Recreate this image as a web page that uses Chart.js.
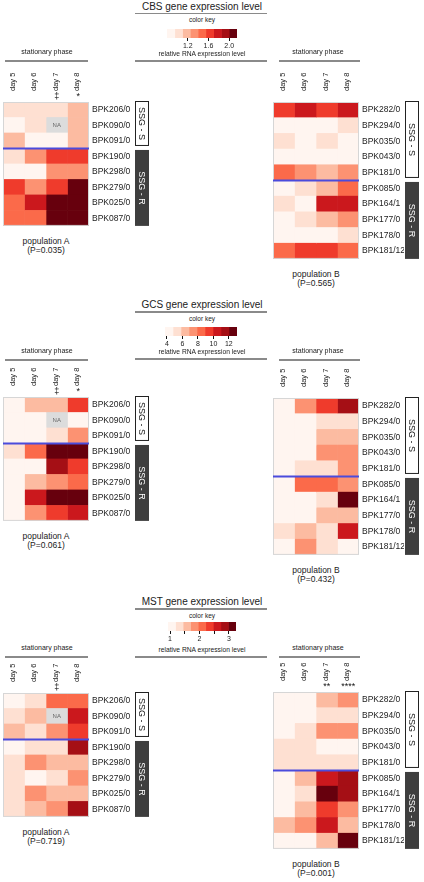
<!DOCTYPE html>
<html>
<head>
<meta charset="utf-8">
<script src="https://cdn.jsdelivr.net/npm/chart.js@4.4.1/dist/chart.umd.min.js"></script>
<style>
body { margin: 0; background: #fff; }
#fig { position: relative; width: 424px; height: 882px; overflow: hidden; font-family: "Liberation Sans", Arial, sans-serif; color: #222; }
#fig canvas { position: absolute; }
.t { position: absolute; white-space: nowrap; transform: translate(-50%, -50%); line-height: 1; }
.rule { position: absolute; height: 1.5px; background: #8a8a8a; }
</style>
</head>
<body>
<div id="fig"></div>
<script>
'use strict';

// ─────────────────────────────────────────────────────────────────────────────
// DONNÉES
// ─────────────────────────────────────────────────────────────────────────────

var DAYS = ['day 5', 'day 6', 'day 7', 'day 8'];
var ROWS_A = ['BPK206/0', 'BPK090/0', 'BPK091/0', 'BPK190/0', 'BPK298/0', 'BPK279/0', 'BPK025/0', 'BPK087/0'];
var ROWS_B = ['BPK282/0', 'BPK294/0', 'BPK035/0', 'BPK043/0', 'BPK181/0', 'BPK085/0', 'BPK164/1', 'BPK177/0', 'BPK178/0', 'BPK181/12'];
var GROUPS = ['SSG - S', 'SSG - R'];
var SSG_S_A = 3;   // nombre de lignes SSG-S (population A)
var SSG_S_B = 5;   // idem population B

var REDS = ['#fff5f0', '#fee0d2', '#fcbba1', '#fc9272', '#fb6a4a', '#ef3b2c', '#cb181d', '#a50f15', '#67000d'];
var NA_COLOR = '#dcdcdc';

// CBS
var CBS_RANGE = [0.8, 2.15];
var CBS_TICKS = [1.2, 1.6, 2.0];
var CBS_TICK_LABELS = ['1.2', '1.6', '2.0'];
var CBS_A = [
    [1.03, 1.05, 1.01, 1.18],
    [0.90, 1.04, null, 1.20],
    [1.16, 0.91, 0.93, 1.19],
    [1.02, 1.33, 1.63, 1.64],
    [0.92, 0.93, 1.31, 1.34],
    [1.62, 1.35, 1.61, 2.10],
    [1.50, 1.78, 2.12, 2.08],
    [1.46, 1.49, 2.09, 2.13]
];
var CBS_B = [
    [1.63, 1.76, 1.60, 1.79],
    [0.90, 0.91, 0.89, 1.03],
    [1.00, 0.92, 1.02, 0.93],
    [0.90, 0.92, 0.91, 0.90],
    [1.47, 1.36, 1.20, 1.33],
    [0.93, 1.01, 1.19, 1.48],
    [1.04, 0.92, 1.79, 1.77],
    [0.90, 1.03, 1.18, 1.35],
    [0.91, 0.90, 0.92, 1.05],
    [1.46, 1.61, 1.63, 1.47]
];
var CBS_MARKS_A = ['', '', '\u2021', '*'];
var CBS_MARKS_B = ['', '', '', ''];
var CBS_P = ['0.035', '0.565'];

// GCS
var GCS_RANGE = [3.75, 13.05];
var GCS_TICKS = [4, 6, 8, 10, 12];
var GCS_TICK_LABELS = ['4', '6', '8', '10', '12'];
var GCS_A = [
    [4.2, 6.2, 6.4, 9.5],
    [4.3, 4.1, null, 4.4],
    [4.1, 4.3, 5.4, 7.3],
    [5.2, 8.5, 12.6, 12.8],
    [4.2, 4.4, 11.4, 9.3],
    [4.3, 6.3, 7.5, 8.3],
    [4.4, 10.4, 12.7, 12.4],
    [4.2, 7.3, 9.5, 10.6]
];
var GCS_B = [
    [4.2, 7.4, 9.5, 11.6],
    [4.3, 4.1, 5.2, 5.4],
    [4.2, 4.4, 6.3, 6.2],
    [4.1, 4.3, 7.3, 7.5],
    [4.3, 5.3, 5.2, 7.4],
    [4.4, 8.3, 8.5, 7.3],
    [4.2, 4.3, 5.3, 12.6],
    [4.1, 4.2, 6.4, 6.3],
    [5.3, 6.2, 5.1, 10.5],
    [4.3, 7.2, 5.4, 4.4]
];
var GCS_MARKS_A = ['', '', '\u2021', '*'];
var GCS_MARKS_B = ['', '', '', ''];
var GCS_P = ['0.061', '0.432'];

// MST
var MST_RANGE = [0.93, 3.24];
var MST_TICKS = [1, 1.5, 2, 2.5, 3];
var MST_TICK_LABELS = ['1', '', '2', '', '3'];
var MST_A = [
    [1.05, 1.30, 2.10, 2.07],
    [1.32, 1.56, null, 2.62],
    [1.58, 1.29, 1.84, 2.35],
    [1.04, 1.33, 1.30, 2.88],
    [1.31, 1.82, 1.55, 1.58],
    [1.30, 1.07, 1.32, 1.85],
    [1.33, 1.84, 1.57, 1.59],
    [1.31, 1.58, 1.83, 2.86]
];
var MST_B = [
    [1.05, 1.07, 1.56, 1.84],
    [1.06, 1.04, 1.32, 1.30],
    [1.07, 1.30, 1.82, 1.85],
    [1.31, 1.29, 1.06, 1.05],
    [1.30, 1.32, 1.31, 1.33],
    [1.05, 1.58, 2.63, 2.87],
    [1.06, 1.32, 3.12, 2.86],
    [1.04, 1.57, 2.36, 1.83],
    [1.56, 1.84, 2.61, 1.59],
    [1.05, 1.07, 1.58, 3.14]
];
var MST_MARKS_A = ['', '', '\u2021', ''];
var MST_MARKS_B = ['', '', '**', '****'];
var MST_P = ['0.719', '0.001'];

// ─────────────────────────────────────────────────────────────────────────────
// MISE EN PAGE
// ─────────────────────────────────────────────────────────────────────────────

var FONT = '"Liberation Sans", Arial, sans-serif';
Chart.defaults.font.family = FONT;
Chart.defaults.color = '#222';

var ROW_H = 16.5;
var TOP_AXES = 36;          // hauteur réservée aux jours + symboles
var HEAT_W = 86;
var LABEL_W = 45;
var BOX_W = 16;             // place pour les boîtes SSG à droite

var fig = document.getElementById('fig');

function text(str, x, y, size) {
    var d = document.createElement('div');
    d.className = 't';
    d.textContent = str;
    d.style.left = x + 'px';
    d.style.top = y + 'px';
    d.style.fontSize = size + 'px';
    fig.appendChild(d);
}

function rule(x1, x2, y) {
    var d = document.createElement('div');
    d.className = 'rule';
    d.style.left = x1 + 'px';
    d.style.width = (x2 - x1) + 'px';
    d.style.top = (y - 0.75) + 'px';
    fig.appendChild(d);
}

function makeCanvas(left, top, w, h) {
    var c = document.createElement('canvas');
    c.width = w;
    c.height = h;
    c.style.left = left + 'px';
    c.style.top = top + 'px';
    c.style.width = w + 'px';
    c.style.height = h + 'px';
    fig.appendChild(c);
    return c;
}

function cellColor(v, range) {
    if (v === null) return NA_COLOR;
    var k = Math.floor((v - range[0]) / (range[1] - range[0]) * REDS.length);
    return REDS[Math.max(0, Math.min(REDS.length - 1, k))];
}

function drawBox(c, label, x, y1, y2, dark) {
    c.fillStyle = dark ? '#3e3e3e' : '#fff';
    c.fillRect(x, y1, 14, y2 - y1);
    if (!dark) {
        c.strokeStyle = '#222';
        c.lineWidth = 1;
        c.strokeRect(x + 0.5, y1 + 0.5, 13, y2 - y1 - 1);
    }
    c.save();
    c.translate(x + 7, (y1 + y2) / 2);
    c.rotate(Math.PI / 2);
    c.fillStyle = dark ? '#fff' : '#111';
    c.font = '9px ' + FONT;
    c.textAlign = 'center';
    c.textBaseline = 'middle';
    c.fillText(label, 0, 0.5);
    c.restore();
}

// ─────────────────────────────────────────────────────────────────────────────
// HEATMAP (barres horizontales empilées, une par jour)
// ─────────────────────────────────────────────────────────────────────────────

function heatmap(left, top, rows, values, marks, range, split) {
    var h = TOP_AXES + Math.round(rows.length * ROW_H);
    var ctx = makeCanvas(left, top - TOP_AXES, 3 + HEAT_W + LABEL_W + BOX_W, h);

    var datasets = DAYS.map(function(day, j) {
        return {
            label: day,
            data: rows.map(function() { return 1; }),
            backgroundColor: rows.map(function(r, i) { return cellColor(values[i][j], range); }),
            borderWidth: 0,
            barPercentage: 1,
            categoryPercentage: 1
        };
    });

    var extras = {
        id: 'heatExtras',
        afterDraw: function(chart) {
            var a = chart.chartArea;
            var x = chart.scales.x;
            var y = chart.scales.y;
            var c = chart.ctx;
            c.save();
            c.strokeStyle = '#d6d6d6';
            c.lineWidth = 1;
            c.strokeRect(a.left + 0.5, a.top + 0.5, a.right - a.left - 1, a.bottom - a.top - 1);

            c.fillStyle = '#666';
            c.font = '6px ' + FONT;
            c.textAlign = 'center';
            c.textBaseline = 'middle';
            values.forEach(function(row, i) {
                row.forEach(function(v, j) {
                    if (v === null) c.fillText('NA', x.getPixelForValue(j + 0.5), y.getPixelForValue(i));
                });
            });

            var ys = (y.getPixelForValue(split - 1) + y.getPixelForValue(split)) / 2;
            c.strokeStyle = '#4b4bdc';
            c.lineWidth = 2;
            c.beginPath();
            c.moveTo(a.left, ys);
            c.lineTo(a.right, ys);
            c.stroke();

            var bx = a.right + LABEL_W + 1;
            drawBox(c, GROUPS[0], bx, a.top - 1, ys - 2.5, false);
            drawBox(c, GROUPS[1], bx, ys + 1.5, a.bottom, true);
            c.restore();
        }
    };

    new Chart(ctx, {
        type: 'bar',
        data: { labels: rows, datasets: datasets },
        options: {
            indexAxis: 'y',
            responsive: false,
            animation: false,
            layout: { padding: { left: 3, right: BOX_W, top: 1, bottom: 0 } },
            plugins: { legend: { display: false }, tooltip: { enabled: false } },
            scales: {
                x: { type: 'linear', stacked: true, min: 0, max: DAYS.length, display: false },
                y: {
                    type: 'category',
                    stacked: true,
                    position: 'right',
                    grid: { display: false, drawTicks: false },
                    border: { display: false },
                    ticks: { font: { size: 8.5 }, color: '#222', padding: 3, autoSkip: false },
                    afterFit: function(s) { s.width = LABEL_W; }
                },
                xs: {
                    type: 'category',
                    labels: marks,
                    position: 'top',
                    offset: true,
                    weight: 0,
                    grid: { display: false, drawTicks: false },
                    border: { display: false },
                    ticks: { font: { size: 9 }, color: '#111', padding: 0, minRotation: 0, maxRotation: 0, autoSkip: false },
                    afterFit: function(s) { s.height = 10; }
                },
                xd: {
                    type: 'category',
                    labels: DAYS,
                    position: 'top',
                    offset: true,
                    weight: 1,
                    grid: { display: false, drawTicks: false },
                    border: { display: false },
                    ticks: { font: { size: 7.5 }, color: '#222', padding: 1, labelOffset: 8, minRotation: 90, maxRotation: 90, autoSkip: false },
                    afterFit: function(s) { s.height = TOP_AXES - 11; }
                }
            }
        },
        plugins: [extras]
    });

    return top + rows.length * ROW_H;
}

// ─────────────────────────────────────────────────────────────────────────────
// CLÉ DE COULEUR
// ─────────────────────────────────────────────────────────────────────────────

function colorKey(x1, x2, barTop, range, ticks, tickLabels) {
    var padL = 12, padR = 12;
    var ctx = makeCanvas(x1 - padL, barTop - 4, (x2 - x1) + padL + padR, 27);
    var step = (range[1] - range[0]) / REDS.length;

    var datasets = REDS.map(function(col, k) {
        return {
            data: [[range[0] + k * step, range[0] + (k + 1) * step]],
            backgroundColor: col,
            borderWidth: 0,
            grouped: false,
            barPercentage: 1,
            categoryPercentage: 1
        };
    });

    new Chart(ctx, {
        type: 'bar',
        data: { labels: [''], datasets: datasets },
        options: {
            indexAxis: 'y',
            responsive: false,
            animation: false,
            layout: { padding: { left: padL, right: padR, top: 4, bottom: 0 } },
            plugins: { legend: { display: false }, tooltip: { enabled: false } },
            scales: {
                y: { display: false },
                x: {
                    type: 'linear',
                    min: range[0],
                    max: range[1],
                    afterBuildTicks: function(s) {
                        s.ticks = ticks.map(function(v) { return { value: v }; });
                    },
                    grid: { drawOnChartArea: false, drawTicks: true, tickLength: 3, color: '#111', lineWidth: 1 },
                    border: { display: false },
                    ticks: {
                        font: { size: 7 },
                        color: '#222',
                        padding: 1,
                        autoSkip: false,
                        maxRotation: 0,
                        callback: function(v, i) { return tickLabels[i]; }
                    },
                    afterFit: function(s) { s.height = 14; }
                }
            }
        }
    });
}

// ─────────────────────────────────────────────────────────────────────────────
// PANNEAUX
// ─────────────────────────────────────────────────────────────────────────────

function panel(p) {
    // colonne centrale
    text(p.title, 202, p.titleY, 10);
    rule(135, 267, p.titleY + 7);
    text('color key', 202, p.titleY + 13.5, 6.5);
    colorKey(p.keyX[0], p.keyX[1], p.keyBarTop, p.range, p.ticks, p.tickLabels);
    text('relative RNA expression level', 202, p.relY, 6.7);
    rule(135, 267, p.relY + 7);

    // population A
    text('stationary phase', 47, p.phaseY, 7);
    rule(5, 88, p.phaseY + 10);
    var botA = heatmap(0, p.heatA, ROWS_A, p.valuesA, p.marksA, p.range, SSG_S_A);
    text('population A', 46, botA + 6.5, 8.5);
    text('(P=' + p.pvals[0] + ')', 46, botA + 16, 8.5);

    // population B
    text('stationary phase', 318, p.phaseY, 7);
    rule(279, 360, p.phaseY + 10);
    var botB = heatmap(270, p.heatB, ROWS_B, p.valuesB, p.marksB, p.range, SSG_S_B);
    text('population B', 316, botB + 6.5, 8.5);
    text('(P=' + p.pvals[1] + ')', 316, botB + 16, 8.5);
}

panel({
    title: 'CBS gene expression level', titleY: 6.5, keyX: [167, 237], keyBarTop: 29, relY: 54,
    phaseY: 51, heatA: 102, heatB: 102,
    range: CBS_RANGE, ticks: CBS_TICKS, tickLabels: CBS_TICK_LABELS,
    valuesA: CBS_A, valuesB: CBS_B, marksA: CBS_MARKS_A, marksB: CBS_MARKS_B, pvals: CBS_P
});

panel({
    title: 'GCS gene expression level', titleY: 305, keyX: [165, 237], keyBarTop: 327, relY: 352,
    phaseY: 350, heatA: 397, heatB: 398,
    range: GCS_RANGE, ticks: GCS_TICKS, tickLabels: GCS_TICK_LABELS,
    valuesA: GCS_A, valuesB: GCS_B, marksA: GCS_MARKS_A, marksB: GCS_MARKS_B, pvals: GCS_P
});

panel({
    title: 'MST gene expression level', titleY: 602, keyX: [168, 236], keyBarTop: 622, relY: 650,
    phaseY: 647, heatA: 693, heatB: 692,
    range: MST_RANGE, ticks: MST_TICKS, tickLabels: MST_TICK_LABELS,
    valuesA: MST_A, valuesB: MST_B, marksA: MST_MARKS_A, marksB: MST_MARKS_B, pvals: MST_P
});
</script>
</body>
</html>
